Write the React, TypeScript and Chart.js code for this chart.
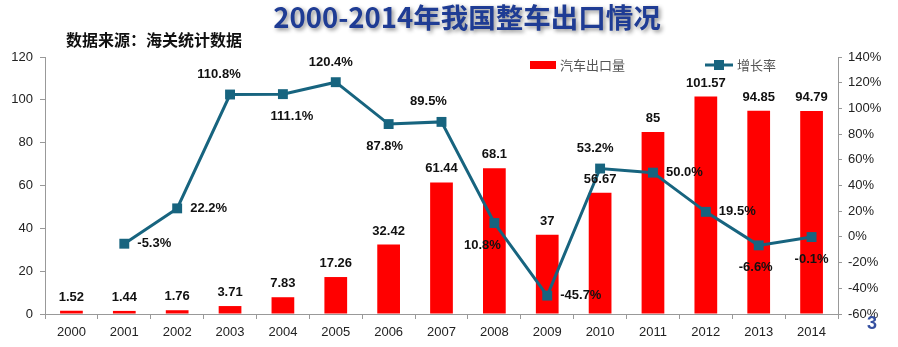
import { useEffect, useRef } from 'react';
import { Chart, registerables } from 'chart.js';

Chart.register(...registerables);

const years = ['2000', '2001', '2002', '2003', '2004', '2005', '2006', '2007', '2008', '2009', '2010', '2011', '2012', '2013', '2014'];
const exportVolume = [1.52, 1.44, 1.76, 3.71, 7.83, 17.26, 32.42, 61.44, 68.1, 37, 56.67, 85, 101.57, 94.85, 94.79];
const growthRate = [null, -5.3, 22.2, 110.8, 111.1, 120.4, 87.8, 89.5, 10.8, -45.7, 53.2, 50.0, 19.5, -6.6, -0.1];
const leftAxisMin = 0;
const leftAxisMax = 120;
const rightAxisMin = -60;
const rightAxisMax = 140;

const titleText = '2000-2014年我国整车出口情况';
const sourceText = '数据来源：海关统计数据';
const barLegend = '汽车出口量';
const lineLegend = '增长率';

// label placement for growth-rate labels: [mode, dx]
const growthLabelPlace: [string, number][] = [
  ['none', 0], ['right', 0], ['right', 0], ['above', -11], ['below', 9], ['above', -5], ['below', -4],
  ['above', -13], ['below', -12], ['right', 0], ['above', -5], ['right', 0], ['right', 0], ['below', -3], ['below', 0],
];

const SANS = '"Liberation Sans", Arial, sans-serif';
const CJK = '"Noto Sans CJK SC", "Noto Sans", sans-serif';
const LINE_COLOR = '#17647F';
const BAR_COLOR = '#FF0000';

const overlayPlugin = {
  id: 'overlay',
  afterDatasetsDraw(chart: any) {
    const ctx = chart.ctx;
    ctx.save();
    const barMeta = chart.getDatasetMeta(1);
    ctx.font = `bold 13px ${SANS}`;
    ctx.fillStyle = '#111';
    ctx.textAlign = 'center';
    ctx.textBaseline = 'bottom';
    barMeta.data.forEach((el: any, i: number) => {
      ctx.fillText(String(exportVolume[i]), el.x, el.y - 7);
    });
    const lineMeta = chart.getDatasetMeta(0);
    ctx.textBaseline = 'middle';
    lineMeta.data.forEach((el: any, i: number) => {
      const v = growthRate[i];
      if (v === null) return;
      const [mode, dx] = growthLabelPlace[i];
      const txt = v.toFixed(1) + '%';
      if (mode === 'right') {
        ctx.textAlign = 'left';
        ctx.fillText(txt, el.x + 13, el.y);
      } else if (mode === 'above') {
        ctx.textAlign = 'center';
        ctx.fillText(txt, el.x + dx, el.y - 20);
      } else if (mode === 'below') {
        ctx.textAlign = 'center';
        ctx.fillText(txt, el.x + dx, el.y + 22);
      }
    });
    ctx.restore();
  },
  afterDraw(chart: any) {
    const ctx = chart.ctx;
    ctx.save();
    ctx.font = `bold 27.5px ${CJK}`;
    ctx.textAlign = 'center';
    ctx.textBaseline = 'middle';
    ctx.shadowColor = 'rgba(0,0,0,0.45)';
    ctx.shadowBlur = 4;
    ctx.shadowOffsetX = 2;
    ctx.shadowOffsetY = 2;
    ctx.fillStyle = '#1F3C94';
    ctx.fillText(titleText, 467, 18);
    ctx.shadowColor = 'transparent';
    ctx.shadowBlur = 0;
    ctx.shadowOffsetX = 0;
    ctx.shadowOffsetY = 0;
    ctx.font = `bold 16px ${CJK}`;
    ctx.fillStyle = '#111';
    ctx.textAlign = 'left';
    ctx.fillText(sourceText, 66, 40);
    ctx.fillStyle = BAR_COLOR;
    ctx.fillRect(530, 61, 26, 8);
    ctx.font = `13px ${CJK}`;
    ctx.fillStyle = '#555';
    ctx.fillText(barLegend, 560, 65);
    ctx.strokeStyle = LINE_COLOR;
    ctx.lineWidth = 3;
    ctx.beginPath();
    ctx.moveTo(705, 65);
    ctx.lineTo(733, 65);
    ctx.stroke();
    ctx.fillStyle = LINE_COLOR;
    ctx.fillRect(714, 60, 10, 10);
    ctx.fillStyle = '#555';
    ctx.fillText(lineLegend, 737, 65);
    ctx.font = `bold 18px ${SANS}`;
    ctx.fillStyle = '#3550A0';
    ctx.textAlign = 'center';
    ctx.fillText('3', 872, 324);
    ctx.restore();
  },
};

export default function App() {
  const ref = useRef<HTMLCanvasElement>(null);
  useEffect(() => {
    document.body.style.margin = '0';
    const chart = new Chart(ref.current!, {
      type: 'bar',
      data: {
        labels: years,
        datasets: [
          {
            type: 'line',
            label: lineLegend,
            data: growthRate as any,
            yAxisID: 'y1',
            borderColor: LINE_COLOR,
            backgroundColor: LINE_COLOR,
            borderWidth: 3,
            pointStyle: 'rect',
            pointRadius: 7,
            pointBorderWidth: 0,
            tension: 0,
            order: 0,
          },
          {
            type: 'bar',
            label: barLegend,
            data: exportVolume,
            yAxisID: 'y',
            backgroundColor: BAR_COLOR,
            barPercentage: 0.43,
            categoryPercentage: 1,
            order: 1,
          },
        ],
      },
      options: {
        responsive: false,
        animation: false,
        layout: { padding: { top: 57, left: 0, right: 0, bottom: 0 } },
        plugins: { legend: { display: false }, tooltip: { enabled: false }, title: { display: false } },
        scales: {
          x: {
            offset: true,
            grid: { display: true, drawOnChartArea: false, drawTicks: true, tickLength: 5, offset: true, color: '#999' },
            border: { color: '#999' },
            ticks: { font: { size: 13, family: SANS }, color: '#222', padding: 6, maxRotation: 0 },
            afterFit: (s: any) => { s.height = 33; },
          },
          y: {
            position: 'left',
            min: leftAxisMin,
            max: leftAxisMax,
            grid: { display: true, drawOnChartArea: false, drawTicks: true, tickLength: 5, color: '#999' },
            border: { color: '#999' },
            ticks: { stepSize: 20, font: { size: 13, family: SANS }, color: '#222', padding: 7 },
            afterFit: (s: any) => { s.width = 45; },
          },
          y1: {
            position: 'right',
            min: rightAxisMin,
            max: rightAxisMax,
            grid: { display: true, drawOnChartArea: false, drawTicks: true, tickLength: 4, color: '#999' },
            border: { color: '#999' },
            ticks: { stepSize: 20, font: { size: 13, family: SANS }, color: '#222', padding: 6, callback: (v: any) => v + '%' },
            afterFit: (s: any) => { s.width = 60; },
          },
        },
      },
      plugins: [overlayPlugin],
    });
    return () => chart.destroy();
  }, []);
  return <canvas ref={ref} width={898} height={347} />;
}
